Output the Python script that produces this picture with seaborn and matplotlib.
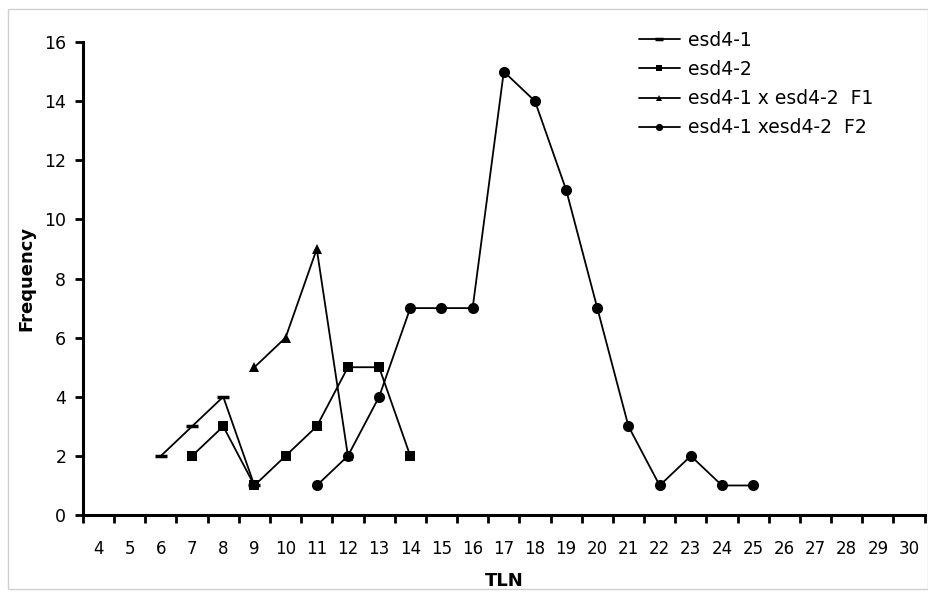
import numpy as np
import pandas as pd
import seaborn as sns
import matplotlib.pyplot as plt
from matplotlib.ticker import MultipleLocator, FixedLocator

# datos
tln_cats = list(range(4, 31))

x_esd41 = [6, 7, 8, 9]
y_esd41 = [2, 3, 4, 1]

x_esd42 = [7, 8, 9, 10, 11, 12, 13, 14]
y_esd42 = [2, 3, 1, 2, 3, 5, 5, 2]

x_f1 = [9, 10, 11, 12]
y_f1 = [5, 6, 9, 2]

x_f2 = [11, 12, 13, 14, 15, 16, 17, 18, 19, 20, 21, 22, 23, 24, 25]
y_f2 = [1, 2, 4, 7, 7, 7, 15, 14, 11, 7, 3, 1, 2, 1, 1]

nombres = ["esd4-1", "esd4-2", "esd4-1 x esd4-2  F1", "esd4-1 xesd4-2  F2"]
marcadores = ["_", "s", "^", "o"]
tamanos = [9, 6.5, 7, 8]

sns.set_style("white")
plt.rcParams['font.family'] = ['DejaVu Sans']
plt.rcParams['text.color'] = 'black'
plt.rcParams['axes.labelcolor'] = 'black'
plt.rcParams['xtick.color'] = 'black'
plt.rcParams['ytick.color'] = 'black'

fig = plt.figure(figsize=(9.29, 5.92), dpi=100)
ax = fig.add_axes([0.0893, 0.130, 0.906, 0.799])

series = [(x_esd41, y_esd41), (x_esd42, y_esd42), (x_f1, y_f1), (x_f2, y_f2)]
for (xs, ys), nom, mk, ms in zip(series, nombres, marcadores, tamanos):
    df = pd.DataFrame({"TLN": xs, "Frequency": ys})
    sns.lineplot(data=df, x="TLN", y="Frequency", ax=ax, color="black", linewidth=1.3,
                 marker=mk, markersize=ms, markeredgewidth=2.5 if mk == "_" else 0,
                 markeredgecolor="black", label=nom)

ax.set_xlim(3.5, 30.5)
ax.set_ylim(0, 16)
ax.yaxis.set_major_locator(MultipleLocator(2))
ax.xaxis.set_major_locator(FixedLocator(tln_cats))
ax.xaxis.set_minor_locator(FixedLocator(np.arange(3.5, 31, 1)))
ax.set_xticklabels([str(t) for t in tln_cats], fontsize=12)
ax.tick_params(axis='x', which='major', bottom=True, length=0, pad=18)
ax.tick_params(axis='x', which='minor', bottom=True, length=6, width=2, direction='out', color='black')
ax.tick_params(axis='y', which='major', left=True, length=6, width=2, direction='out', color='black', labelsize=12.5, pad=6)

for s in ['top', 'right']:
    ax.spines[s].set_visible(False)
for s in ['left', 'bottom']:
    ax.spines[s].set_linewidth(2.2)
    ax.spines[s].set_color('black')

ax.set_xlabel("TLN", fontsize=13, fontweight='bold', labelpad=10)
ax.set_ylabel("Frequency", fontsize=13, fontweight='bold', labelpad=6)

leg = ax.legend(loc='upper left', bbox_to_anchor=(0.64, 1.06), frameon=False, fontsize=13.5,
                handlelength=2.2, labelspacing=0.55, handletextpad=0.45, markerscale=0.65)

# borde gris de la figura
fig.patches.append(plt.Rectangle((0.009, 0.005), 0.99, 0.98, transform=fig.transFigure,
                                 fill=False, edgecolor='#d0d0d0', linewidth=1))

fig.savefig("out.png", dpi=100)
